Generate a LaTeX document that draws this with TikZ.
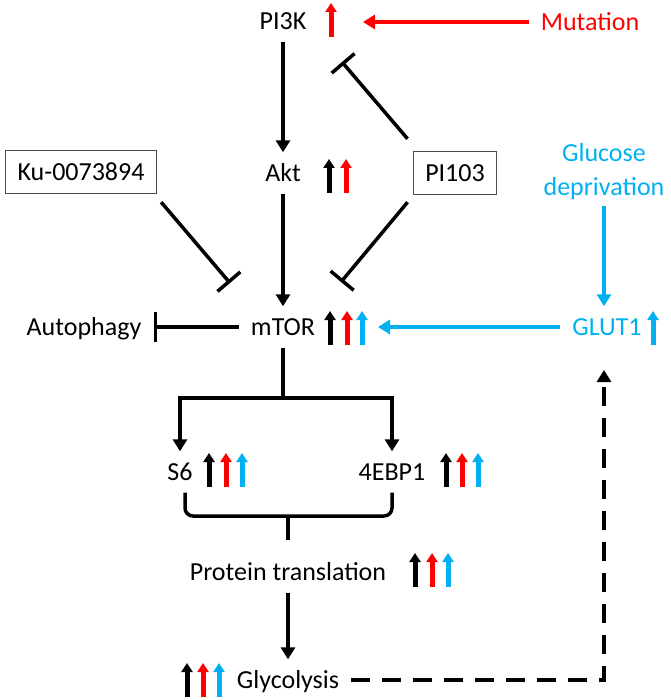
\documentclass[tikz,border=0pt]{standalone}
\usepackage{fontspec}
\setmainfont{Carlito}
\usetikzlibrary{arrows.meta,positioning}
\definecolor{mutred}{RGB}{255,0,0}
\definecolor{glcblue}{RGB}{0,176,240}
\tikzset{
  lbl/.style={font=\fontsize{26}{34}\selectfont, text height=17pt, text depth=0pt, inner sep=12pt},
  drug/.style={lbl, draw=black!70, line width=1.4pt, inner ysep=13pt},
  act/.style={line width=3.5pt, -{Triangle[width=14pt,length=12pt]}},
  inh/.style={line width=3.5pt, -{Bar[width=30pt]}},
  feed/.style={act, dash pattern=on 19pt off 12pt},
  rise/.pic={\draw[line width=5pt,-{Triangle[width=11pt,length=9pt]}] (0,17) -- (0,-17);}
}
\begin{document}
\begin{tikzpicture}[x=1pt,y=-1pt]
    \useasboundingbox (0,0) rectangle (670,700);
    % names
    \node[lbl] (pi3k) at (283,21) {PI3K};
    \node[lbl, text=mutred] (mut) at (590,22) {Mutation};
    \node[lbl] (akt) at (283,173) {Akt};
    \node[drug] (ku) at (81,172) {Ku-0073894};
    \node[drug] (pi103) at (455,173) {PI103};
    \node[font=\fontsize{26}{34}\selectfont, text=glcblue, align=center, inner sep=6pt] (glc) at (604,172) {Glucose\\deprivation};
    \node[lbl] (auto) at (84,327) {Autophagy};
    \node[lbl] (mtor) at (283,327) {mTOR};
    \node[lbl, text=glcblue] (glut) at (607,327) {GLUT1};
    \node[lbl] (s6) at (180,472) {S6};
    \node[lbl] (ebp) at (392,472) {4EBP1};
    \node[lbl] (prot) at (288,572) {Protein translation};
    \node[lbl] (gly) at (288,680) {Glycolysis};
    % free ends
    \coordinate (mutend) at (363,22);
    \coordinate (pi3kbar) at (342,62);
    \coordinate (kubar) at (230,283);
    \coordinate (pibar) at (341,282);
    \coordinate (mtorin) at (378,327);
    \coordinate (split) at (283,398);
    \coordinate (brace) at (288,516);
    \coordinate (bracetip) at (288,540);
    \coordinate (glutin) at (604,370);
    % up arrows
    \pic[mutred] at (331,20) {rise};
    \pic at (329,176) {rise};
    \pic[mutred] at (346,176) {rise};
    \pic at (330,328) {rise};
    \pic[mutred] at (347,328) {rise};
    \pic[glcblue] at (362,328) {rise};
    \pic[glcblue] at (653,328) {rise};
    \pic at (209,470) {rise};
    \pic[mutred] at (226,470) {rise};
    \pic[glcblue] at (242,470) {rise};
    \pic at (446,470) {rise};
    \pic[mutred] at (462,470) {rise};
    \pic[glcblue] at (478,470) {rise};
    \pic at (415,570) {rise};
    \pic[mutred] at (432,570) {rise};
    \pic[glcblue] at (448,570) {rise};
    \pic at (187,680) {rise};
    \pic[mutred] at (203,680) {rise};
    \pic[glcblue] at (219,680) {rise};
    % connectors
    \draw[act, mutred] (mut) -- (mutend);
    \draw[act] (pi3k) -- (akt);
    \draw[inh] ([shift={(-5,-12)}]pi103.north west) -- (pi3kbar);
    \draw[inh] ([shift={(4,8)}]ku.south east) -- (kubar);
    \draw[inh] ([shift={(-5,7)}]pi103.south west) -- (pibar);
    \draw[act] (akt) -- (mtor);
    \draw[inh] (mtor) -- (auto);
    \draw[act, glcblue] (glc.south) -- (glc.south |- glut.north);
    \draw[act, glcblue] (glut) -- (mtorin);
    \draw[line width=3.5pt] (mtor) -- (split);
    \draw[act] (split) -| (s6);
    \draw[act] (split) -| (ebp);
    \draw[line width=3.5pt, rounded corners=8pt] ([xshift=5pt]s6.south) |- (brace) -| (ebp.south);
    \draw[line width=3.5pt] (brace) -- (bracetip);
    \draw[act] (prot) -- (gly);
    \draw[feed] (gly.east) -| (glutin);
\end{tikzpicture}
\end{document}
